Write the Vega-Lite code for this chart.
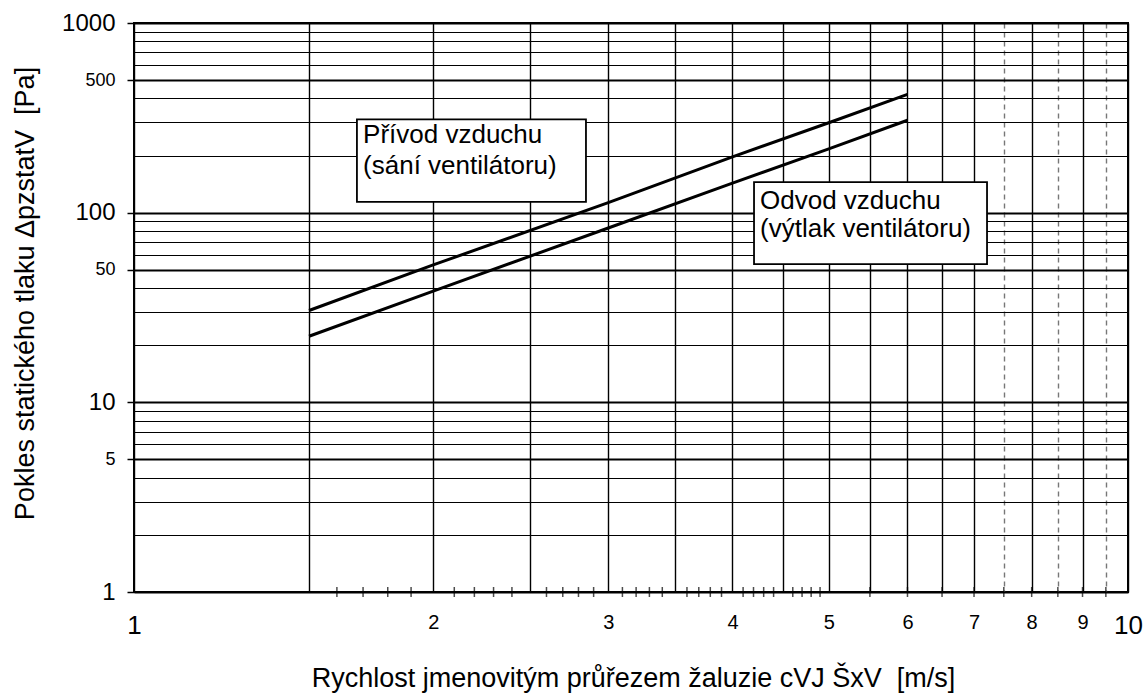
{
  "$schema": "https://vega.github.io/schema/vega-lite/v6.json",
  "width": 994,
  "height": 569,
  "autosize": {"type": "none"},
  "padding": {"left": 134, "top": 23, "right": 17, "bottom": 106},
  "background": "white",
  "config": {
    "view": {"stroke": "black", "strokeWidth": 2},
    "font": "Liberation Sans"
  },
  "datasets": {
    "curves": [
      {"s": "Přívod", "x": 1.5, "y": 30.5},
      {"s": "Přívod", "x": 2, "y": 53},
      {"s": "Přívod", "x": 3, "y": 113},
      {"s": "Přívod", "x": 4, "y": 197},
      {"s": "Přívod", "x": 5, "y": 298},
      {"s": "Přívod", "x": 6, "y": 420},
      {"s": "Odvod", "x": 1.5, "y": 22.3},
      {"s": "Odvod", "x": 2, "y": 38.6},
      {"s": "Odvod", "x": 3, "y": 83},
      {"s": "Odvod", "x": 4, "y": 143},
      {"s": "Odvod", "x": 5, "y": 217},
      {"s": "Odvod", "x": 6, "y": 307}
    ],
    "boxes": [
      {"x": 1.676, "x2": 2.849, "y": 114, "y2": 310},
      {"x": 4.205, "x2": 7.214, "y": 53.5, "y2": 145}
    ],
    "labels": [
      {"x": 1.70, "y": 232, "t": "Přívod vzduchu"},
      {"x": 1.70, "y": 160, "t": "(sání ventilátoru)"},
      {"x": 4.264, "y": 105, "t": "Odvod vzduchu"},
      {"x": 4.264, "y": 74.3, "t": "(výtlak ventilátoru)"}
    ],
    "minorTicks": [
      {"x": 1.6, "y": 1}, {"x": 1.7, "y": 1}, {"x": 1.8, "y": 1}, {"x": 1.9, "y": 1},
      {"x": 2.1, "y": 1}, {"x": 2.2, "y": 1}, {"x": 2.3, "y": 1}, {"x": 2.4, "y": 1},
      {"x": 2.6, "y": 1}, {"x": 2.7, "y": 1}, {"x": 2.8, "y": 1}, {"x": 2.9, "y": 1},
      {"x": 3.1, "y": 1}, {"x": 3.2, "y": 1}, {"x": 3.3, "y": 1}, {"x": 3.4, "y": 1},
      {"x": 3.6, "y": 1}, {"x": 3.7, "y": 1}, {"x": 3.8, "y": 1}, {"x": 3.9, "y": 1},
      {"x": 4.1, "y": 1}, {"x": 4.2, "y": 1}, {"x": 4.3, "y": 1}, {"x": 4.4, "y": 1},
      {"x": 4.6, "y": 1}, {"x": 4.7, "y": 1}, {"x": 4.8, "y": 1}, {"x": 4.9, "y": 1},
      {"x": 5.5, "y": 1}, {"x": 6, "y": 1}, {"x": 6.5, "y": 1}, {"x": 7, "y": 1},
      {"x": 7.5, "y": 1}, {"x": 8, "y": 1}, {"x": 8.5, "y": 1}, {"x": 9, "y": 1},
      {"x": 9.5, "y": 1}
    ]
  },
  "encoding": {
    "x": {
      "field": "x",
      "type": "quantitative",
      "scale": {"type": "log", "domain": [1, 10], "nice": false, "zero": false},
      "axis": {
        "values": [1, 1.5, 2, 2.5, 3, 3.5, 4, 4.5, 5, 5.5, 6, 6.5, 7, 7.5, 8, 8.5, 9, 9.5, 10],
        "labelExpr": "datum.value == floor(datum.value) ? format(datum.value, 'd') : ''",
        "labelFontSize": {"condition": {"test": "datum.value == 1 || datum.value == 10", "value": 26}, "value": 20},
        "labelColor": "black",
        "labelPadding": 20,
        "labelOverlap": false,
        "labelFlush": false,
        "labelBound": false,
        "ticks": false,
        "domain": false,
        "grid": true,
        "gridColor": {"condition": {"test": "datum.value == 7.5 || datum.value == 8.5 || datum.value == 9.5", "value": "#777777"}, "value": "black"},
        "gridDash": {"condition": {"test": "datum.value == 7.5 || datum.value == 8.5 || datum.value == 9.5", "value": [5, 4]}, "value": []},
        "gridWidth": 1.4,
        "gridOpacity": 1,
        "title": "Rychlost jmenovitým průřezem žaluzie cVJ ŠxV\u00a0 [m/s]",
        "titleFontSize": 27,
        "titleFontWeight": "normal",
        "titleColor": "black",
        "titleX": 499,
        "titleY": 94,
        "titleAlign": "center",
        "titleBaseline": "alphabetic"
      }
    },
    "y": {
      "field": "y",
      "type": "quantitative",
      "scale": {"type": "log", "domain": [1, 1000], "nice": false, "zero": false},
      "axis": {
        "values": [1, 2, 3, 4, 5, 6, 7, 8, 9, 10, 20, 30, 40, 50, 60, 70, 80, 90, 100, 200, 300, 400, 500, 600, 700, 800, 900, 1000],
        "labelExpr": "indexof([1, 5, 10, 50, 100, 500, 1000], datum.value) >= 0 ? format(datum.value, 'd') : ''",
        "labelFontSize": {"condition": {"test": "datum.value == 1 || datum.value == 10 || datum.value == 100 || datum.value == 1000", "value": 24}, "value": 18},
        "labelColor": "black",
        "labelPadding": 12,
        "labelOverlap": false,
        "labelFlush": false,
        "labelBound": false,
        "ticks": true,
        "tickSize": 7,
        "tickColor": "black",
        "tickWidth": 1.5,
        "tickOpacity": {"condition": {"test": "indexof([1, 5, 10, 50, 100, 500, 1000], datum.value) >= 0", "value": 1}, "value": 0},
        "domain": false,
        "grid": true,
        "gridColor": "black",
        "gridOpacity": 1,
        "gridWidth": {"condition": {"test": "indexof([1, 5, 10, 50, 100, 500, 1000], datum.value) >= 0", "value": 2}, "value": 1.1},
        "title": "Pokles statického tlaku ΔpzstatV\u00a0 [Pa]",
        "titleFontSize": 27,
        "titleFontWeight": "normal",
        "titleColor": "black",
        "titleX": -101,
        "titleY": 270,
        "titleAngle": -90,
        "titleAlign": "center",
        "titleBaseline": "alphabetic"
      }
    }
  },
  "layer": [
    {
      "data": {"name": "boxes"},
      "mark": {"type": "rect", "fill": "white", "stroke": "black", "strokeWidth": 1.8},
      "encoding": {
        "x2": {"field": "x2"},
        "y2": {"field": "y2"}
      }
    },
    {
      "data": {"name": "labels"},
      "mark": {"type": "text", "align": "left", "baseline": "alphabetic", "fontSize": 26, "color": "black", "font": "Liberation Sans"},
      "encoding": {
        "text": {"field": "t", "type": "nominal"}
      }
    },
    {
      "data": {"name": "curves"},
      "mark": {"type": "line", "color": "black", "strokeWidth": 3},
      "encoding": {
        "detail": {"field": "s", "type": "nominal"}
      }
    },
    {
      "data": {"name": "minorTicks"},
      "mark": {"type": "tick", "orient": "vertical", "color": "black", "size": 10, "thickness": 1.5},
      "encoding": {}
    }
  ]
}
